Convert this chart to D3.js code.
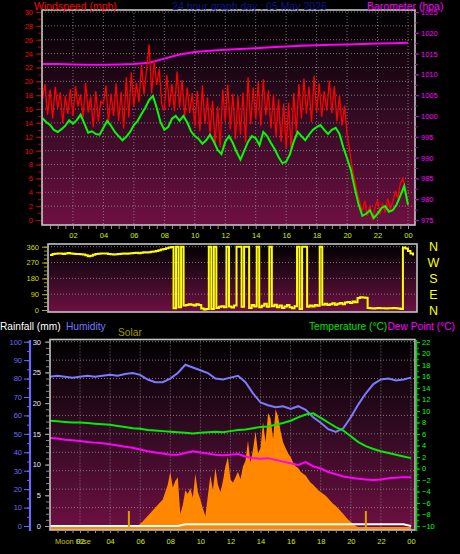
<!DOCTYPE html>
<html><head><meta charset="utf-8">
<script src="https://cdn.jsdelivr.net/npm/d3@7"></script>
<style>body{margin:0;background:#000}svg{display:block}</style>
</head><body>
<script>
// ---------- DATA ----------
const hourTicks = [2,4,6,8,10,12,14,16,18,20,22,24];
const windTicks = [0,2,4,6,8,10,12,14,16,18,20,22,24,26,28,30];
const baroTicks = [975,980,985,990,995,1000,1005,1010,1015,1020,1025];
const dirTicks = [0,90,180,270,360];
const compassLabels = ["N","W","S","E","N"];
const compassValues = [360,270,180,90,0];
const humTicks = [0,10,20,30,40,50,60,70,80,90,100];
const rainTicks = [0,5,10,15,20,25,30];
const tempTicks = [-10,-8,-6,-4,-2,0,2,4,6,8,10,12,14,16,18,20,22];
const sunEvents = [5.25, 21.0];

// wind average, every 15 minutes (mph)
const windAvg = [14.7,14.1,13.7,13.0,12.7,13.1,13.6,14.4,13.9,14.4,
15.2,13.9,12.6,12.8,12.4,12.3,13.3,14.3,13.6,12.7,
12.1,11.5,12.0,12.7,13.7,14.3,15.3,16.2,17.3,17.9,
16.2,14.1,13.0,13.4,14.6,15.0,14.3,15.0,14.1,12.8,
12.1,11.7,11.0,11.5,12.3,11.3,10.1,9.5,11.3,12.1,
11.1,9.8,8.7,10.0,11.3,12.1,11.8,10.8,12.7,12.1,
11.1,10.2,9.1,8.2,8.4,9.5,11.3,12.7,12.1,11.5,
12.3,13.0,13.4,13.7,13.0,12.4,13.0,13.3,12.4,10.5,
8.9,7.2,4.6,2.3,0.6,0.9,1.4,0.3,0.9,1.7,
2.0,1.2,1.4,2.2,3.5,4.9,2.2];

// wind gust, every 10 minutes (mph)
const windGust = [
17.5,19.6,15.2,18.8,14.6,19.2,
16.1,18.4,14.0,17.9,15.3,18.9,
15.0,19.3,16.4,18.1,14.8,19.8,
15.5,17.8,13.4,18.6,14.2,17.1,
16.8,19.4,14.1,18.2,15.0,19.7,
14.3,18.5,13.2,20.6,14.8,21.3,
16.4,19.8,17.0,22.4,18.1,21.6,
25.3,18.2,23.0,19.5,21.8,16.6,
15.8,20.9,16.3,19.6,15.7,21.4,
16.2,20.2,14.9,19.1,15.4,18.3,
13.5,18.6,12.8,19.4,13.9,17.7,
12.4,17.2,11.0,16.4,10.5,18.8,
14.2,19.5,13.1,18.2,11.6,17.9,
12.3,18.4,11.2,20.6,13.8,19.1,
14.5,19.9,13.6,20.3,15.1,18.7,
13.2,18.1,12.0,17.4,11.3,16.8,
10.4,16.9,9.8,18.3,12.7,19.6,
14.6,20.4,15.3,19.2,14.1,20.8,
15.5,19.7,14.9,18.6,15.8,20.1,
15.4,19.3,14.2,18.0,13.6,16.5,
12.4,10.1,7.5,5.8,3.9,2.6,
1.2,2.8,0.6,2.1,0.0,1.8,
2.9,0.8,2.4,1.1,3.1,1.5,
2.6,4.1,3.2,5.3,6.0,4.4,
2.0];

// barometer, hourly (hPa)
const baro = [1012.5,1012.5,1012.4,1012.3,1012.3,1012.4,1012.5,1012.8,1013.8,1014.8,
1015.4,1015.7,1015.9,1016.1,1016.3,1016.5,1016.7,1016.9,1017.0,1017.1,
1017.2,1017.3,1017.4,1017.5,1017.6];

// wind direction, every 10 minutes (degrees)
const windDir = [313,318,320,322,321,319,322,324,322,320,
319,318,317,316,312,305,309,314,318,320,
321,322,322,319,317,316,317,318,320,321,
320,322,323,324,325,323,326,328,327,329,
331,333,336,340,344,347,351,355,358,
10,360,15,360,25,
28,32,30,26,33,28,8,3,6,
360,5,360,12,18,22,15,360,20,14,25,360,360,18,360,360,12,28,20,360,15,24,35,18,360,22,30,16,25,12,20,28,15,10,22,360,5,360,360,18,25,20,28,24,360,30,35,28,33,38,30,35,40,33,42,45,40,48,44,68,72,71,70,12,
10,9,10,11,10,10,9,10,10,11,10,8,5,
355,350,335,322,310];

// every 30 minutes
const humidity = [81,81.5,81,80.5,81,81.5,81,81.5,82,81.5,
82.5,83,82,79.5,78,78,80,83,87.5,86,
84.5,83,80,79.5,80.5,81.5,78,72,67,65.5,
64.5,65,63.5,65,63,59,56,52.5,51,53,
59,66,72,77,79.5,80,79,79.5,80.5];
const temperature = [8.3,8.2,8.1,8.0,8.0,7.9,7.8,7.7,7.6,7.4,
7.2,7.0,6.9,6.7,6.6,6.5,6.4,6.3,6.2,6.1,
6.2,6.3,6.4,6.3,6.5,6.7,6.8,7.0,7.2,7.3,
7.6,7.9,8.3,8.9,9.4,9.6,8.8,8.0,7.2,6.6,
5.6,4.6,3.9,3.4,3.0,2.7,2.4,2.1,1.8];
const dewPoint = [5.3,5.2,5.0,4.9,4.8,4.6,4.5,4.4,4.2,4.0,
3.8,3.6,3.3,3.0,2.8,2.6,2.4,2.4,2.7,3.0,
2.8,2.6,2.4,2.3,2.4,2.5,2.1,1.8,1.7,1.8,
1.5,1.2,0.9,0.6,1.1,0.4,0.0,-0.6,-1.0,-1.4,
-1.6,-1.8,-1.9,-2.0,-1.9,-1.7,-1.6,-1.5,-1.5];
const rainfall = [0,0,0,0,0,0,0,0,0,0,
0,0,0,0,0,0,0,0,0.3,0.3,
0.3,0.3,0.3,0.3,0.3,0.3,0.3,0.3,0.3,0.3,
0.3,0.3,0.3,0.3,0.3,0.3,0.3,0.3,0.3,0.3,
0.3,0.3,0.3,0.3,0.3,0.3,0.3,0.3,0];

// solar radiation, every 10 minutes (W/m2)
const solar = [0,0,0,0,0,0,0,0,0,0,
0,0,0,0,0,0,0,0,0,0,
0,0,0,0,0,0,0,0,0,0,
0,0,0,0,0,
5,18,30,45,60,75,90,105,120,135,
150,190,230,300,215,250,270,70,120,200,
180,210,160,290,190,150,100,60,170,280,
200,320,230,190,250,330,380,260,240,270,
300,260,330,360,470,350,420,520,400,430,
570,460,620,590,480,640,600,520,460,430,
400,380,350,330,320,300,290,280,260,240,
230,215,200,190,180,170,155,140,125,115,
100,85,70,55,40,28,15,5,
0,0,0,0,0,0,0,0,0,0,0,0,0,0,0,0,0,0,0,0,0,0];

// ---------- CHART ----------
const W=460,H=554;
const font="'Liberation Sans', Arial, sans-serif";
const svg=d3.select("body").append("svg").attr("width",W).attr("height",H).style("background","#000");
const defs=svg.append("defs");
const g0=defs.append("linearGradient").attr("id","bg").attr("x1",0).attr("y1",0).attr("x2",0).attr("y2",1);
[[0,"#000000"],[0.45,"#2e0a20"],[1,"#6e1042"]].forEach(s=>g0.append("stop").attr("offset",s[0]).attr("stop-color",s[1]));

const P1={x:42,y:10,w:373,h:215};
const P2={x:48,y:244,w:369,h:68};
const P3={x:50,y:339.5,w:365,h:190.5};
[P1,P2,P3].forEach((p,i)=>{
  svg.append("rect").attr("x",p.x).attr("y",p.y).attr("width",p.w).attr("height",p.h).attr("fill","url(#bg)");
  defs.append("clipPath").attr("id","c"+i).append("rect").attr("x",p.x).attr("y",p.y).attr("width",p.w).attr("height",p.h);
});

const xTop=d3.scaleLinear([0,24],[42.5,408]);
const yWind=d3.scaleLinear([0,30],[220,12]);
const yBaro=d3.scaleLinear([975,1025],[220,12]);
const xMid=d3.scaleLinear([0,24],[50,413]);
const yDir=d3.scaleLinear([0,360],[310,246.7]);
const xBot=d3.scaleLinear([0,24],[49.9,411]);
const yHum=d3.scaleLinear([0,100],[526,341.7]);
const yRain=d3.scaleLinear([0,30],[526,341.7]);
const yTemp=d3.scaleLinear([-10,22],[526,342]);
const ySol=d3.scaleLinear([0,1000],[527,343]);

const gridC="#9a9a9a";
function hgrid(vals,y,p){
  svg.append("g").selectAll("line").data(vals).join("line")
   .attr("x1",p.x).attr("x2",p.x+p.w).attr("y1",d=>y(d)).attr("y2",d=>y(d))
   .attr("stroke",gridC).attr("stroke-dasharray","1,2").attr("stroke-opacity",0.75);
}
function vgrid(vals,x,p){
  svg.append("g").selectAll("line").data(vals).join("line")
   .attr("y1",p.y).attr("y2",p.y+p.h).attr("x1",d=>x(d)).attr("x2",d=>x(d))
   .attr("stroke",gridC).attr("stroke-dasharray","1,2").attr("stroke-opacity",0.75);
}
hgrid(windTicks.filter(d=>d>0),yWind,P1);
vgrid([0].concat(hourTicks),xTop,P1);
hgrid([90,180,270,360],yDir,P2);
hgrid(humTicks.filter(d=>d>0),yHum,P3);
vgrid(hourTicks,xBot,P3);

// ---- top panel data
const c1=svg.append("g").attr("clip-path","url(#c0)");
c1.append("path").datum(baro).attr("fill","none").attr("stroke","#ff00ff").attr("stroke-width",2)
  .attr("d",d3.line().x((d,i)=>xTop(i)).y(d=>yBaro(d)));
c1.append("path").datum(windGust).attr("fill","none").attr("stroke","#ff0000").attr("stroke-width",1.3)
  .attr("d",d3.line().x((d,i)=>xTop(i/6)).y(d=>yWind(d)));
c1.append("path").datum(windAvg).attr("fill","none").attr("stroke","#00ff00").attr("stroke-width",2)
  .attr("d",d3.line().x((d,i)=>xTop(i/4)).y(d=>yWind(d)));

// ---- middle panel
const c2=svg.append("g").attr("clip-path","url(#c1)");
c2.append("path").datum(windDir).attr("fill","none").attr("stroke","#ffff00").attr("stroke-width",2)
  .attr("d",d3.line().x((d,i)=>xMid(i/6)).y(d=>yDir(d)).curve(d3.curveStepAfter));

// ---- bottom panel
const c3=svg.append("g").attr("clip-path","url(#c2)");
c3.append("path").datum(solar).attr("fill","#ff8800")
  .attr("d",d3.area().x((d,i)=>xBot(i/6)).y0(531).y1(d=>ySol(d)));
c3.append("path").datum(humidity).attr("fill","none").attr("stroke","#7b7bff").attr("stroke-width",2)
  .attr("d",d3.line().x((d,i)=>xBot(i/2)).y(d=>yHum(d)));
c3.append("path").datum(temperature).attr("fill","none").attr("stroke","#00ee00").attr("stroke-width",2)
  .attr("d",d3.line().x((d,i)=>xBot(i/2)).y(d=>yTemp(d)));
c3.append("path").datum(dewPoint).attr("fill","none").attr("stroke","#ff00ff").attr("stroke-width",2)
  .attr("d",d3.line().x((d,i)=>xBot(i/2)).y(d=>yTemp(d)));
c3.append("path").datum(rainfall).attr("fill","none").attr("stroke","#ffffff").attr("stroke-width",2)
  .attr("d",d3.line().x((d,i)=>xBot(i/2)).y(d=>yRain(d)));
c3.selectAll("line.sun").data(sunEvents).join("line").attr("class","sun")
  .attr("x1",d=>xBot(d)).attr("x2",d=>xBot(d)).attr("y1",511).attr("y2",530)
  .attr("stroke","#e0a000").attr("stroke-width",2);

// borders
[P1,P2,P3].forEach(p=>{
  svg.append("rect").attr("x",p.x).attr("y",p.y).attr("width",p.w).attr("height",p.h)
    .attr("fill","none").attr("stroke","#c4c4c4").attr("stroke-width",1.6);
});

// ---- axes
function style(g,color,tickColor,size){
  g.select(".domain").remove();
  g.selectAll("text").attr("fill",color).attr("font-family",font).attr("font-size",size||7.5);
  g.selectAll("line").attr("stroke",tickColor||color);
  g.attr("font-family",null).attr("font-size",null);
}
const xLab="#d4ec00";
// top x
svg.append("g").attr("transform","translate(0,226)")
  .call(d3.axisBottom(xTop).tickValues(d3.range(0.5,24.1,0.5)).tickSize(3).tickFormat(""))
  .call(g=>style(g,xLab,"#909090"));
svg.append("g").attr("transform","translate(0,226)")
  .call(d3.axisBottom(xTop).tickValues(hourTicks).tickSize(0).tickPadding(6.3).tickFormat(d=>String(d%24).padStart(2,"0")))
  .call(g=>style(g,xLab));
// wind left
svg.append("g").attr("transform","translate(41,0)")
  .call(d3.axisLeft(yWind).tickValues(d3.range(0,30.1,1)).tickSize(3).tickFormat(""))
  .call(g=>style(g,"#ff0000","#b00000"));
svg.append("g").attr("transform","translate(41,0)")
  .call(d3.axisLeft(yWind).tickValues(windTicks).tickSize(5).tickPadding(3))
  .call(g=>style(g,"#ff0000","#c00000"));
// baro right
svg.append("g").attr("transform","translate(415,0)")
  .call(d3.axisRight(yBaro).tickValues(d3.range(975,1025.1,2.5)).tickSize(3).tickFormat(""))
  .call(g=>style(g,"#ff00ff","#b000b0"));
svg.append("g").attr("transform","translate(415,0)")
  .call(d3.axisRight(yBaro).tickValues(baroTicks).tickSize(4).tickPadding(2).tickFormat(d3.format("d")))
  .call(g=>style(g,"#ff00ff","#d000d0"));
// direction left
svg.append("g").attr("transform","translate(47,0)")
  .call(d3.axisLeft(yDir).tickValues(d3.range(0,360.1,22.5)).tickSize(3).tickFormat(""))
  .call(g=>style(g,"#cccc00","#a0a000"));
svg.append("g").attr("transform","translate(47,0)")
  .call(d3.axisLeft(yDir).tickValues(dirTicks).tickSize(5).tickPadding(3))
  .call(g=>style(g,"#d4dc00","#b0b000"));
// compass labels
svg.append("g").selectAll("text").data(compassValues).join("text")
  .attr("x",433.5).attr("y",d=>yDir(d)).attr("dy","0.36em").attr("text-anchor","middle")
  .attr("fill","#ffff00").attr("font-family",font).attr("font-size",12.5)
  .text((d,i)=>compassLabels[i]);
// humidity left
svg.append("g").attr("transform","translate(30,0)")
  .call(d3.axisLeft(yHum).tickValues(d3.range(0,100.1,5)).tickSize(3).tickFormat(""))
  .call(g=>style(g,"#6a6aff","#6a6aff"));
svg.append("g").attr("transform","translate(30,0)")
  .call(d3.axisLeft(yHum).tickValues(humTicks).tickSize(6).tickPadding(2))
  .call(g=>style(g,"#6a6aff","#6a6aff"));
svg.append("line").attr("x1",30).attr("x2",30).attr("y1",340).attr("y2",531).attr("stroke","#6a6aff").attr("stroke-width",2.2);
// rain
svg.append("g").attr("transform","translate(49,0)")
  .call(d3.axisLeft(yRain).tickValues(d3.range(0,30.1,1)).tickSize(3).tickFormat(""))
  .call(g=>style(g,"#e8e8ff","#8a8a8a"));
svg.append("g").attr("transform","translate(49,0)")
  .call(d3.axisLeft(yRain).tickValues(rainTicks).tickSize(4).tickPadding(4))
  .call(g=>style(g,"#e8e8ff","#a0a0a0"));
// temp right
svg.append("g").attr("transform","translate(416,0)")
  .call(d3.axisRight(yTemp).tickValues(d3.range(-10,22.1,1)).tickSize(3).tickFormat(""))
  .call(g=>style(g,"#00ff00","#00c000"));
svg.append("g").attr("transform","translate(416,0)")
  .call(d3.axisRight(yTemp).tickValues(tempTicks).tickSize(4).tickPadding(2))
  .call(g=>style(g,"#00ff00","#00e000"));
svg.append("line").attr("x1",416.5).attr("x2",416.5).attr("y1",340).attr("y2",531).attr("stroke","#00d000").attr("stroke-width",1.6);
// bottom x
svg.append("g").attr("transform","translate(0,530)")
  .call(d3.axisBottom(xBot).tickValues(d3.range(0.5,24.1,0.5)).tickSize(3).tickFormat(""))
  .call(g=>style(g,xLab,"#909090"));
svg.append("g").attr("transform","translate(0,530)")
  .call(d3.axisBottom(xBot).tickValues(hourTicks).tickSize(0).tickPadding(8.8).tickFormat(d=>String(d%24).padStart(2,"0")))
  .call(g=>style(g,xLab));
svg.append("text").attr("x",55).attr("y",544).attr("fill","#c8c800").attr("font-family",font).attr("font-size",7.5).text("Moon Rise");

// ---- titles
function txt(x,y,s,color,size,anchor){
  svg.append("text").attr("x",x).attr("y",y).attr("fill",color).attr("font-family",font)
   .attr("font-size",size).attr("text-anchor",anchor||"start").text(s);
}
txt(34,9.5,"Windspeed (mph)","#ff0000",10.5);
txt(249.5,9.5,"24 hour graph day : 05 May 2026","#14148c",10.5,"middle");
txt(367,9.5,"Barometer (hpa)","#ff00ff",10.5);
txt(0,330,"Rainfall (mm)","#ffffff",10.2);
txt(66,330,"Humidity","#7878ff",10.2);
txt(118,336,"Solar","#9c9c00",10.2);
txt(309,330,"Temperature (°C)","#00e000",10.2);
txt(387.5,330,"Dew Point (°C)","#ff00ff",10.2);
</script>
</body></html>
